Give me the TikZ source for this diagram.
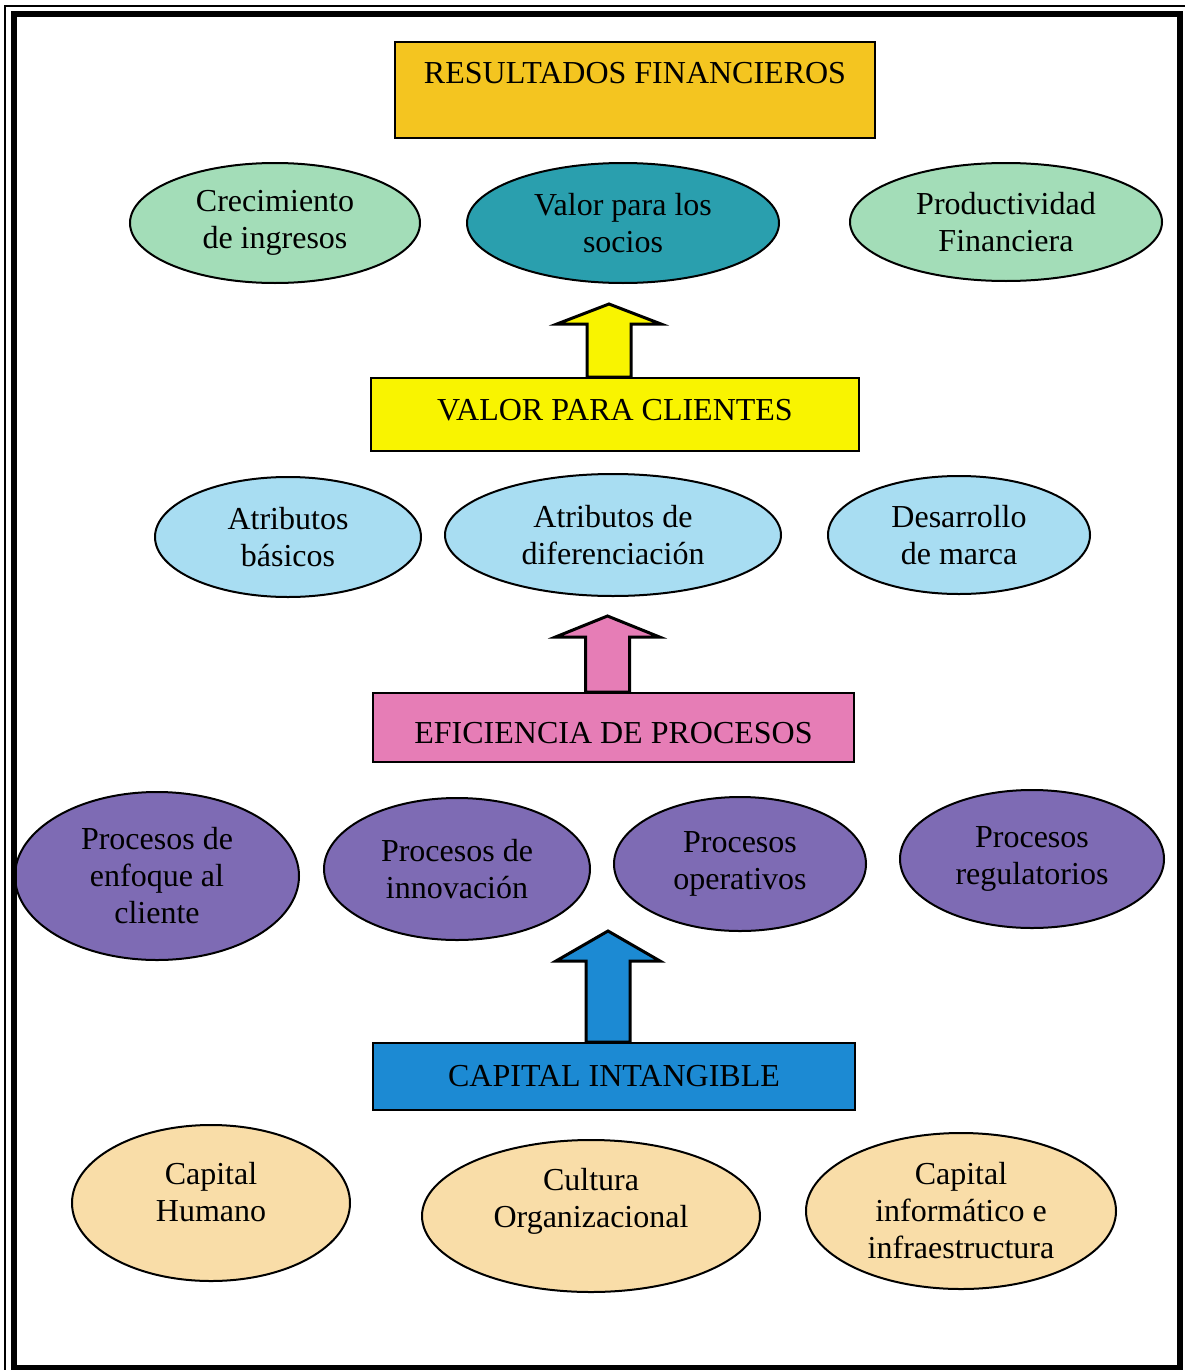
\documentclass[tikz,border=0pt]{standalone}
\usepackage{fontspec}
\setmainfont{Liberation Serif}
\usetikzlibrary{shapes.geometric}

\definecolor{oro}{HTML}{F4C520}
\definecolor{verde}{HTML}{A3DDB8}
\definecolor{turquesa}{HTML}{2A9FAE}
\definecolor{amarillo}{HTML}{F9F400}
\definecolor{celeste}{HTML}{A8DDF2}
\definecolor{rosa}{HTML}{E67DB6}
\definecolor{morado}{HTML}{7E6BB4}
\definecolor{azul}{HTML}{1C8AD3}
\definecolor{crema}{HTML}{F9DDA8}

\tikzset{
  caja/.style={draw, line width=1pt, inner sep=0pt, font=\fontsize{16}{18.5}\selectfont},
  elipse/.style={draw, ellipse, line width=1pt, inner sep=0pt, align=center,
    font=\fontsize{16}{18.5}\selectfont},
  flechabloque/.style={draw, line width=1.5pt, line join=miter}
}
% #1 caja, #2 color, #3 largo del tallo, #4 alto de la punta
\newcommand{\flecha}[4]{%
  \draw[flechabloque, fill=#2] ([xshift=-3pt]#1.north) ++(-22,0)
    -- ++(0,-#3) -- ++(-30,0) -- ++(52,-#4) -- ++(52,#4) -- ++(-30,0) -- ++(0,#3) -- cycle;}

\begin{document}
\begin{tikzpicture}[x={(0.5pt,0)}, y={(0,-0.5pt)}]
  \useasboundingbox (0,0) rectangle (1184,1370);
  \fill[white] (0,0) rectangle (1184,1370);

  % resultados financieros
  \node [caja, fill=oro, minimum width=240pt, text height=21pt, text depth=27pt](rf) at (635,90) {RESULTADOS FINANCIEROS};
  \node [elipse, fill=verde, minimum width=145pt, minimum height=60pt](crec) at (275,223) {Crecimiento\\de ingresos};
  \node [elipse, fill=turquesa, minimum width=156pt, minimum height=60pt](socios) at (623,223) {Valor para los\\socios};
  \node [elipse, fill=verde, minimum width=156pt, minimum height=59pt](prod) at (1006,222) {Productividad\\Financiera};

  % valor para clientes
  \node [caja, fill=amarillo, minimum width=244pt, text height=21pt, text depth=15.5pt](vpc) at (615,414.5) {VALOR PARA CLIENTES};
  \node [elipse, fill=celeste, minimum width=133pt, minimum height=60pt](atrb) at (288,537) {Atributos\\básicos};
  \node [elipse, fill=celeste, minimum width=168pt, minimum height=61pt](atrd) at (613,535) {Atributos de\\diferenciación};
  \node [elipse, fill=celeste, minimum width=131pt, minimum height=59pt](marca) at (959,535) {Desarrollo\\de marca};

  % eficiencia de procesos
  \node [caja, fill=rosa, minimum width=240.5pt, text height=25pt, text depth=9.5pt](efp) at (613.5,727.5) {EFICIENCIA DE PROCESOS};
  \node [elipse, fill=morado, minimum width=142pt, minimum height=84pt](pcli) at (157,876) {Procesos de\\enfoque al\\cliente};
  \node [elipse, fill=morado, minimum width=133pt, minimum height=71pt](pinn) at (457,869) {Procesos de\\innovación};
  \node [elipse, fill=morado, minimum width=126pt, minimum height=67pt](pope) at (740,864) {Procesos\\operativos};
  \node [elipse, fill=morado, minimum width=132pt, minimum height=69pt](preg) at (1032,859) {Procesos\\regulatorios};

  % capital intangible
  \node [caja, fill=azul, minimum width=241pt, text height=21.5pt, text depth=12pt](ci) at (614,1076.5) {CAPITAL INTANGIBLE};
  \node [elipse, fill=crema, minimum width=139pt, minimum height=78pt, text depth=11pt](chum) at (211,1203) {Capital\\Humano};
  \node [elipse, fill=crema, minimum width=169pt, minimum height=76pt, text depth=18pt](corg) at (591,1216) {Cultura\\Organizacional};
  \node [elipse, fill=crema, minimum width=155pt, minimum height=78pt](cinf) at (961,1211) {Capital\\informático e\\infraestructura};

  % flechas
  \flecha{vpc}{amarillo}{53}{20}
  \flecha{efp}{rosa}{55}{21}
  \flecha{ci}{azul}{81}{30}

  % marco
  \draw [line width=0.8pt] (5,6) rectangle (1200,1400);
  \draw [line width=3pt] (14,14) rectangle (1180,1368);
\end{tikzpicture}
\end{document}
